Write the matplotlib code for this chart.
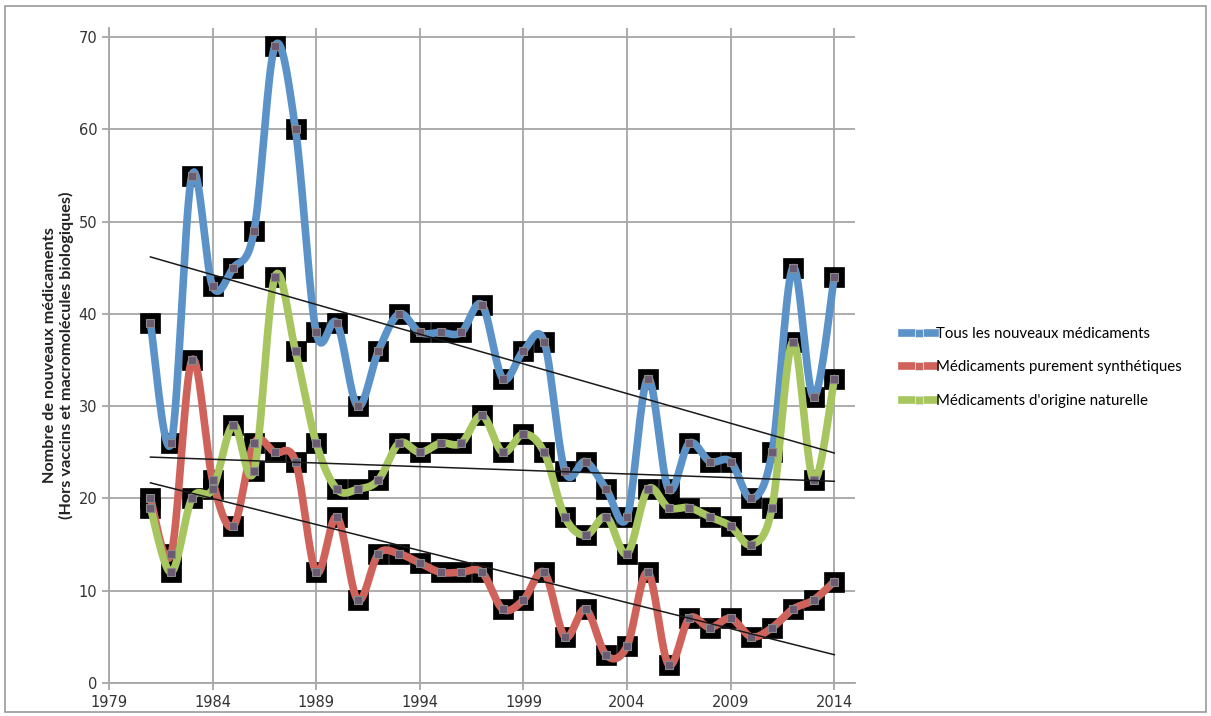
import numpy as np
import matplotlib
matplotlib.use('Agg')
import matplotlib.pyplot as plt
from matplotlib.patches import Rectangle

years = list(range(1981, 2015))
tous = [39, 26, 55, 43, 45, 49, 69, 60, 38, 39, 30, 36, 40, 38, 38, 38, 41, 33,
        36, 37, 23, 24, 21, 18, 33, 21, 26, 24, 24, 20, 25, 45, 31, 44]
synth = [20, 14, 35, 22, 17, 26, 25, 24, 12, 18, 9, 14, 14, 13, 12, 12, 12, 8,
         9, 12, 5, 8, 3, 4, 12, 2, 7, 6, 7, 5, 6, 8, 9, 11]
naturel = [19, 12, 20, 21, 28, 23, 44, 36, 26, 21, 21, 22, 26, 25, 26, 26, 29, 25,
           27, 25, 18, 16, 18, 14, 21, 19, 19, 18, 17, 15, 19, 37, 22, 33]
labels = ['Tous les nouveaux médicaments', 'Médicaments purement synthétiques',
          "Médicaments d'origine naturelle"]
colors = ['#5b92c8', '#d0625c', '#a7c660']
xticks = list(range(1979, 2015, 5))


def smooth(x, y, n=20):
    # bezier smoothing, excel style
    x = np.asarray(x, float)
    y = np.asarray(y, float)
    px = np.concatenate([[x[0]], x, [x[-1]]])
    py = np.concatenate([[y[0]], y, [y[-1]]])
    t = np.linspace(0, 1, n)
    xs, ys = [], []
    for i in range(len(x) - 1):
        p0 = np.array([px[i + 1], py[i + 1]])
        p3 = np.array([px[i + 2], py[i + 2]])
        c1 = p0 + (p3 - np.array([px[i], py[i]])) / 6
        c2 = p3 - (np.array([px[i + 3], py[i + 3]]) - p0) / 6
        b = ((1 - t) ** 3)[:, None] * p0 + (3 * (1 - t) ** 2 * t)[:, None] * c1 \
            + (3 * (1 - t) * t ** 2)[:, None] * c2 + (t ** 3)[:, None] * p3
        xs.extend(b[:, 0])
        ys.extend(b[:, 1])
    return xs, ys


fig = plt.figure(figsize=(12.11, 7.16), dpi=100)
ax = fig.add_axes([109 / 1211, 1 - 683 / 716, (855 - 109) / 1211, (683 - 28) / 716])

series = [tous, synth, naturel]
handles = []
for s in series:
    ax.plot(years, s, ls='none', marker='s', markersize=15, markerfacecolor='black',
            markeredgecolor='black', markeredgewidth=0.5, zorder=2)
for s, c, lab in zip(series, colors, labels):
    sx, sy = smooth(years, s)
    ax.plot(sx, sy, color=c, lw=5.5, solid_capstyle='round', zorder=3)
    h, = ax.plot([], [], color=c, lw=5.5, marker='s', markersize=6,
                 markerfacecolor=c, markeredgecolor='#e0e0e0', markeredgewidth=0.7,
                 label=lab)
    handles.append(h)
for s in series:
    ax.plot(years, s, ls='none', marker='s', markersize=6, markerfacecolor='#6a5a72',
            markeredgecolor='#8a8a8a', markeredgewidth=0.8, zorder=5)

yr = np.array(years, float)
for s in series:
    a, b = np.polyfit(yr, s, 1)
    ax.plot([yr[0], yr[-1]], [a * yr[0] + b, a * yr[-1] + b], color='#1a1a1a',
            lw=1.1, zorder=6)

ax.set_xlim(1979, 2015)
ax.set_ylim(0, 71)
ax.set_xticks(xticks)
ax.set_yticks(range(0, 71, 10))
ax.grid(True, color='#a6a6a6', lw=1.3)
ax.set_axisbelow(True)
for sp in ['top', 'right']:
    ax.spines[sp].set_visible(False)
for sp in ['left', 'bottom']:
    ax.spines[sp].set_color('#a6a6a6')
    ax.spines[sp].set_linewidth(1.3)
ax.tick_params(colors='#a6a6a6', labelcolor='#333333', labelsize=10.5, length=5, width=1.3)
for lab in ax.get_xticklabels() + ax.get_yticklabels():
    lab.set_family('DejaVu Sans')

ax.set_ylabel('Nombre de nouveaux médicaments\n(Hors vaccins et macromolécules biologiques)',
              family='Lato', fontweight='bold', fontsize=11.7, color='#222222', labelpad=3,
              linespacing=1.15)

fig.legend(handles=handles, loc='upper left', bbox_to_anchor=(896 / 1211, 1 - 321 / 716),
           frameon=False, prop={'family': 'Lato', 'size': 10.8}, handlelength=2.2,
           handletextpad=0.1, labelspacing=1.3, borderaxespad=0)

fig.patches.append(Rectangle((5 / 1211, 4 / 716), 1201 / 1211, 706 / 716,
                             transform=fig.transFigure, fill=False,
                             edgecolor='#9a9a9a', lw=1.2))

fig.savefig('out.png', dpi=100)
